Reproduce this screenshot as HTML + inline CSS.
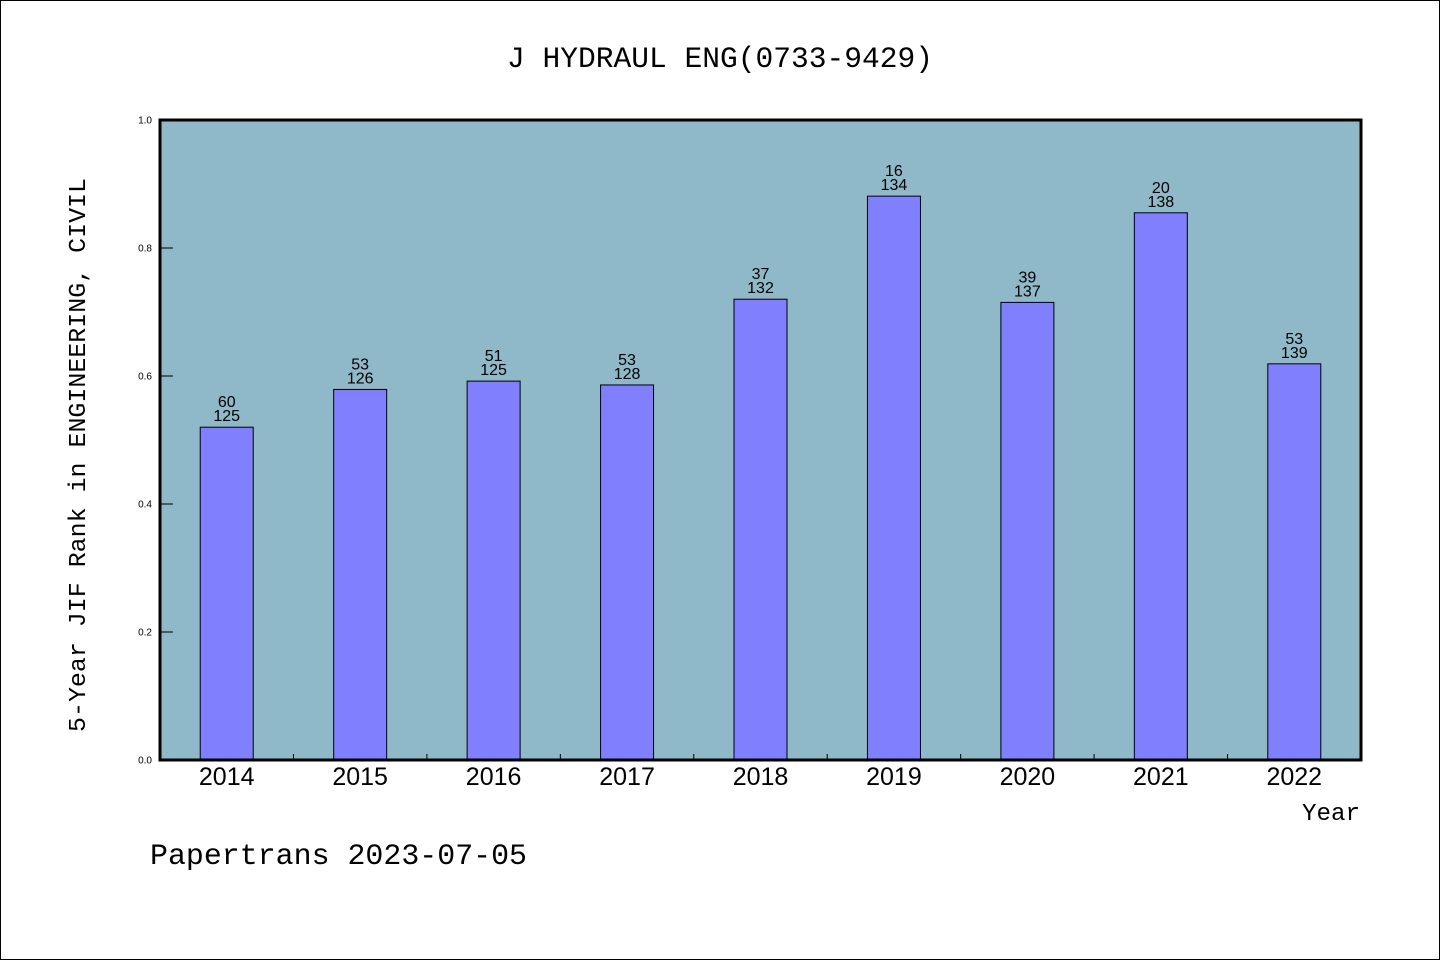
<!DOCTYPE html>
<html><head><meta charset="utf-8"><style>
html,body{margin:0;padding:0;background:#fff}
svg{display:block}
text{font-family:"Liberation Sans","Noto Sans CJK SC",sans-serif;fill:#000}
.mono{font-family:"Liberation Mono","Noto Sans CJK SC",monospace}
</style></head><body>
<svg id="chart" width="1440" height="960" xmlns="http://www.w3.org/2000/svg">
<rect x="0.5" y="0.5" width="1439" height="959" fill="#fff" stroke="#000"/>
<text class="mono" x="720" y="67" text-anchor="middle" font-size="30" textLength="426" lengthAdjust="spacingAndGlyphs">J HYDRAUL ENG(0733-9429)</text>
<rect x="160" y="120" width="1201" height="640" fill="#8fb8c8"/>
<g id="bars"></g>
<g id="axes"></g>
<text class="mono" transform="translate(85,455) rotate(-90)" text-anchor="middle" font-size="24" textLength="554" lengthAdjust="spacingAndGlyphs">5-Year JIF Rank in ENGINEERING, CIVIL</text>
<text class="mono" x="1360" y="820" text-anchor="end" font-size="24" textLength="58" lengthAdjust="spacingAndGlyphs">Year</text>
<text class="mono" x="150" y="864" font-size="30" textLength="377" lengthAdjust="spacingAndGlyphs">Papertrans 2023-07-05</text>
</svg>
<script>
const years = ["2014","2015","2016","2017","2018","2019","2020","2021","2022"];
const values = [0.520, 0.579, 0.592, 0.586, 0.720, 0.881, 0.715, 0.855, 0.619];
const ranks = ["60","53","51","53","37","16","39","20","53"];
const totals = ["125","126","125","128","132","134","137","138","139"];
const yTicks = ["0.0","0.2","0.4","0.6","0.8","1.0"];
const NS="http://www.w3.org/2000/svg";
const X0=160,X1=1361,Y0=760,Y1=120;
const bw=(X1-X0)/years.length;
const xc=i=>X0+bw*(i+0.5);
const y=v=>Y0-(v-0)/(1-0)*(Y0-Y1);
function mk(tag,attrs,parent){const e=document.createElementNS(NS,tag);for(const k in attrs)e.setAttribute(k,attrs[k]);parent.appendChild(e);return e;}
const gb=document.getElementById('bars'),ga=document.getElementById('axes');
years.forEach((yr,i)=>{
  const top=y(values[i]);
  const r=mk('rect',{x:xc(i)-26.5,y:top,width:53,height:Y0-top,fill:'#8080ff',stroke:'#000','stroke-width':1},gb);
  
  
  const t1=mk('text',{x:xc(i),y:top-20,'text-anchor':'middle','font-size':16},gb);
  t1.textContent=ranks[i];
  
  
  const t2=mk('text',{x:xc(i),y:top-6,'text-anchor':'middle','font-size':16},gb);
  t2.textContent=totals[i];
  
  
  const xl=mk('text',{x:xc(i),y:785,'text-anchor':'middle','font-size':25},ga);
  xl.textContent=yr;
  
  
  if(i>0){
    const tk=mk('line',{x1:X0+bw*i,x2:X0+bw*i,y1:Y0,y2:Y0-6,stroke:'#000','stroke-width':1},ga);
    
    
  }
});
yTicks.forEach(l=>{
  const v=parseFloat(l),yy=y(v);
  const tk=mk('line',{x1:X0,x2:X0+13,y1:yy,y2:yy,stroke:'#000','stroke-width':1},ga);
  
  
  const tl=mk('text',{x:152,y:yy+3.5,'text-anchor':'end','font-size':10},ga);
  tl.textContent=l;
  
  
});
const bd=mk('rect',{x:X0,y:Y1,width:X1-X0,height:Y0-Y1,fill:'none',stroke:'#000','stroke-width':3},ga);


</script>
</body></html>
